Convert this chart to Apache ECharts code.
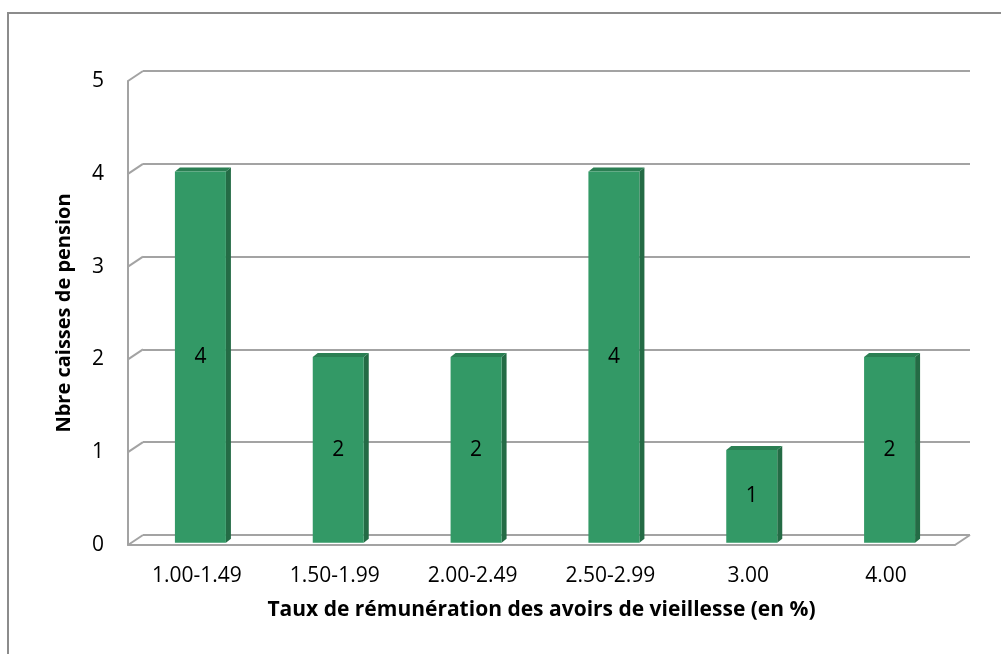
<!DOCTYPE html>
<html>
<head>
<meta charset="utf-8">
<script src="https://cdn.jsdelivr.net/npm/echarts@6/dist/echarts.min.js"></script>
<style>
  html, body { margin: 0; padding: 0; background: #fff; }
  #chart { width: 1001px; height: 654px; }
</style>
</head>
<body>
<div id="chart"></div>
<script>
// catégories et valeurs
var categories = ['1.00-1.49', '1.50-1.99', '2.00-2.49', '2.50-2.99', '3.00', '4.00'];
var caisses = [4, 2, 2, 4, 1, 2];
var yTicks = [0, 1, 2, 3, 4, 5];

var FONT = 'Open Sans';
var GRID_COL = '#a3a3a3';
// décalage perspective (mur du fond)
var DEPTH_X = 15, DEPTH_Y = -10;

var chart = echarts.init(document.getElementById('chart'));

// barre "3D": face avant, côté, dessus
function renderBar(params, api) {
  var cat = api.value(0), val = api.value(1);
  var p0 = api.coord([cat, 0]);
  var p1 = api.coord([cat, val]);
  var w = 51, dx = 3.5, dy = -2.3, sx = 5, sy = -4;
  var x0 = p0[0] - w / 2 + dx, x1 = x0 + w;
  var yb = p0[1] + dy, yt = p1[1] + dy;
  return {
    type: 'group',
    children: [
      { type: 'polygon', shape: { points: [[x1, yt], [x1 + sx, yt + sy], [x1 + sx, yb + sy], [x1, yb]] },
        style: { fill: '#246b45' } },
      { type: 'polygon', shape: { points: [[x0, yt], [x0 + sx, yt + sy], [x1 + sx, yt + sy], [x1, yt]] },
        style: { fill: '#2b7f53' } },
      { type: 'rect', shape: { x: x0, y: yt, width: w, height: yb - yt },
        style: { fill: '#339966' } },
      { type: 'text', x: (x0 + x1) / 2, y: (yt + yb) / 2,
        style: { text: String(val), fill: '#000', font: '21px "' + FONT + '"', align: 'center', verticalAlign: 'middle' } }
    ]
  };
}

// traits obliques du mur gauche + bord droit du sol
function renderWall(params, api) {
  var cs = params.coordSys;
  var v = api.value(0);
  var y = api.coord([0, v])[1];
  var children = [
    { type: 'line', shape: { x1: cs.x, y1: y, x2: cs.x + DEPTH_X, y2: y + DEPTH_Y },
      style: { stroke: GRID_COL, lineWidth: 2 } }
  ];
  if (v === 0) {
    children.push({ type: 'line', shape: { x1: cs.x + cs.width, y1: y, x2: cs.x + cs.width + DEPTH_X, y2: y + DEPTH_Y },
      style: { stroke: GRID_COL, lineWidth: 2 } });
  }
  return { type: 'group', children: children };
}

var option = {
  backgroundColor: '#fff',
  animation: false,
  graphic: [
    { type: 'rect', shape: { x: 8, y: 13, width: 1200, height: 900 },
      style: { fill: 'none', stroke: '#8c8c8c', lineWidth: 2 }, z: -1 }
  ],
  grid: [
    // mur du fond
    { left: 143, right: 31, top: 71, bottom: 119 },
    // plan avant
    { left: 128, right: 46, top: 81, bottom: 109 }
  ],
  xAxis: [
    { type: 'category', gridIndex: 0, data: categories, show: false },
    {
      type: 'category', gridIndex: 1, data: categories,
      axisLine: { show: true, lineStyle: { color: GRID_COL, width: 2 } },
      axisTick: { show: false },
      axisLabel: { color: '#000', fontFamily: FONT, fontSize: 21, margin: 21 },
      name: 'Taux de rémunération des avoirs de vieillesse (en %)',
      nameLocation: 'middle', nameGap: 55,
      nameTextStyle: { color: '#000', fontFamily: FONT, fontSize: 21, fontWeight: 'bold' }
    }
  ],
  yAxis: [
    {
      type: 'value', gridIndex: 0, min: 0, max: 5, interval: 1,
      axisLine: { show: false }, axisTick: { show: false }, axisLabel: { show: false },
      splitLine: { show: true, lineStyle: { color: GRID_COL, width: 2 } }
    },
    {
      type: 'value', gridIndex: 1, min: 0, max: 5, interval: 1,
      axisLine: { show: true, lineStyle: { color: GRID_COL, width: 2 } },
      axisTick: { show: false },
      splitLine: { show: false },
      axisLabel: { color: '#000', fontFamily: FONT, fontSize: 21, margin: 24 },
      name: 'Nbre caisses de pension',
      nameLocation: 'middle', nameGap: 54,
      nameTextStyle: { color: '#000', fontFamily: FONT, fontSize: 20, fontWeight: 'bold' }
    }
  ],
  series: [
    {
      type: 'custom', xAxisIndex: 1, yAxisIndex: 1,
      data: yTicks.map(function (t) { return [t]; }),
      encode: { y: 0 },
      renderItem: renderWall, z: 1, silent: true
    },
    {
      type: 'custom', xAxisIndex: 1, yAxisIndex: 1,
      data: caisses.map(function (v, i) { return [i, v]; }),
      encode: { x: 0, y: 1 },
      renderItem: renderBar, z: 3
    }
  ]
};

chart.setOption(option);
window.onresize = chart.resize;
</script>
</body>
</html>
